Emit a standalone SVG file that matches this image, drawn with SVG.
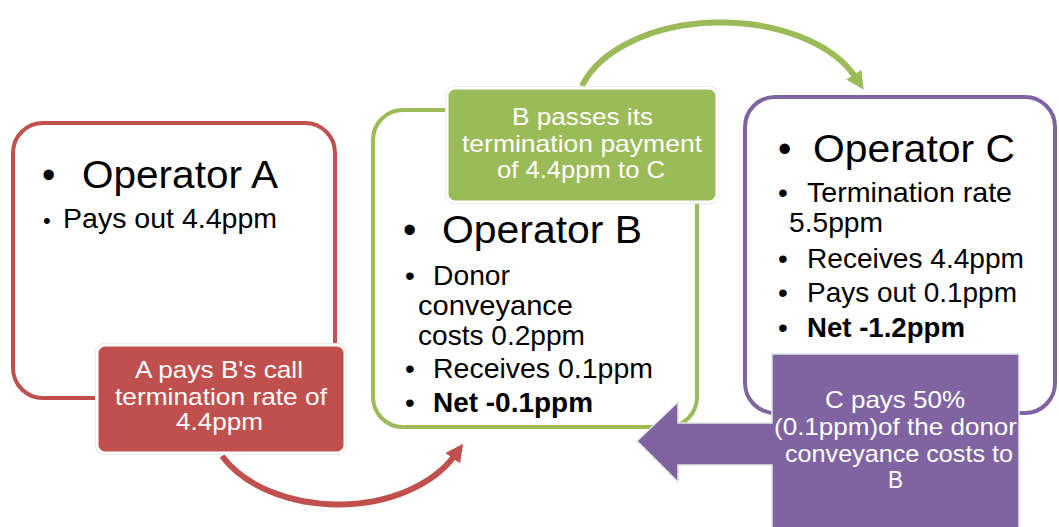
<svg xmlns="http://www.w3.org/2000/svg" width="1059" height="527" viewBox="0 0 1059 527">
  <style>
    .frame { fill: #ffffff; stroke-width: 4; }
    .red { stroke: #C0504D; }
    .green { stroke: #9BBB59; }
    .purple { stroke: #8064A2; }
    .head { font-family: "Liberation Sans", Arial, sans-serif; font-size: 38px; fill: #000; }
    .body { font-family: "Liberation Sans", Arial, sans-serif; font-size: 28px; fill: #000; }
    .bold { font-weight: bold; }
    .lbl { font-family: "Liberation Sans", Arial, sans-serif; font-size: 24px; fill: #ffffff; }
    .tag { stroke: #ffffff; stroke-width: 3; }
    .edge { fill: none; stroke-width: 6; }
  </style>
  <defs>
    <marker id="headGreen" markerUnits="userSpaceOnUse" markerWidth="20" markerHeight="20" refX="4" refY="10" orient="auto" viewBox="0 0 20 20">
      <path d="M0,1 L18,10 L0,19 Z" fill="#9BBB59"/>
    </marker>
    <marker id="headRed" markerUnits="userSpaceOnUse" markerWidth="20" markerHeight="20" refX="4" refY="10" orient="auto" viewBox="0 0 20 20">
      <path d="M0,1 L18,10 L0,19 Z" fill="#C0504D"/>
    </marker>
  </defs>

  <!-- Operator C -->
  <g id="operator-c">
    <rect class="frame purple" x="745" y="97" width="310" height="316" rx="30"/>
    <text class="head" x="778" y="162">•</text>
    <text class="head" x="813" y="162" textLength="202" lengthAdjust="spacingAndGlyphs">Operator  C</text>
    <text class="body" x="778" y="202">•</text>
    <text class="body" x="807" y="202" textLength="205" lengthAdjust="spacingAndGlyphs">Termination rate</text>
    <text class="body" x="789" y="232" textLength="94" lengthAdjust="spacingAndGlyphs">5.5ppm</text>
    <text class="body" x="778" y="268">•</text>
    <text class="body" x="807" y="268" textLength="217" lengthAdjust="spacingAndGlyphs">Receives 4.4ppm</text>
    <text class="body" x="778" y="302">•</text>
    <text class="body" x="807" y="302" textLength="210" lengthAdjust="spacingAndGlyphs">Pays out 0.1ppm</text>
    <text class="body" x="778" y="337">•</text>
    <text class="body bold" x="807" y="337" textLength="158" lengthAdjust="spacingAndGlyphs">Net -1.2ppm</text>
  </g>

  <!-- Operator A -->
  <g id="operator-a">
    <rect class="frame red" x="13" y="123" width="322" height="275" rx="30"/>
    <text class="head" x="42" y="188">•</text>
    <text class="head" x="82" y="188" textLength="196" lengthAdjust="spacingAndGlyphs">Operator  A</text>
    <text class="body" x="43" y="228" style="font-size:22px">•</text>
    <text class="body" x="63" y="228" textLength="214" lengthAdjust="spacingAndGlyphs">Pays out 4.4ppm</text>
  </g>

  <!-- Operator B -->
  <g id="operator-b">
    <rect class="frame green" x="373" y="110" width="324" height="317" rx="30"/>
    <text class="head" x="403" y="243">•</text>
    <text class="head" x="442" y="243" textLength="200" lengthAdjust="spacingAndGlyphs">Operator  B</text>
    <text class="body" x="405" y="285">•</text>
    <text class="body" x="433" y="285" textLength="77" lengthAdjust="spacingAndGlyphs">Donor</text>
    <text class="body" x="418" y="315" textLength="155" lengthAdjust="spacingAndGlyphs">conveyance</text>
    <text class="body" x="418" y="345" textLength="167" lengthAdjust="spacingAndGlyphs">costs 0.2ppm</text>
    <text class="body" x="405" y="378">•</text>
    <text class="body" x="433" y="378" textLength="220" lengthAdjust="spacingAndGlyphs">Receives 0.1ppm</text>
    <text class="body" x="405" y="412">•</text>
    <text class="body bold" x="433" y="412" textLength="160" lengthAdjust="spacingAndGlyphs">Net -0.1ppm</text>
  </g>

  <!-- Connectors: curved payment arrows -->
  <g id="connectors">
    <path class="edge" stroke="#9BBB59" d="M582,86 A145 88 0 0 1 856,78" marker-end="url(#headGreen)"/>
    <path class="edge" stroke="#C0504D" d="M222,456 A130 88 0 0 0 455,455" marker-end="url(#headRed)"/>
  </g>

  <!-- Label: A pays B -->
  <g id="label-a-to-b">
    <rect x="95.5" y="343.5" width="251" height="111" rx="9" fill="none" stroke="#d8d8d8" stroke-width="1"/>
    <rect class="tag" x="97" y="345" width="248" height="108" rx="8" fill="#C0504D"/>
    <text class="lbl" x="135" y="378" textLength="168" lengthAdjust="spacingAndGlyphs">A pays B's call</text>
    <text class="lbl" x="115" y="405" textLength="212" lengthAdjust="spacingAndGlyphs">termination rate of</text>
    <text class="lbl" x="176" y="430" textLength="87" lengthAdjust="spacingAndGlyphs">4.4ppm</text>
  </g>

  <!-- Label: B passes to C -->
  <g id="label-b-to-c">
    <rect x="445.5" y="86.5" width="273" height="117" rx="9" fill="none" stroke="#d8d8d8" stroke-width="1"/>
    <rect class="tag" x="447" y="88" width="270" height="114" rx="8" fill="#9BBB59"/>
    <text class="lbl" x="512" y="125" textLength="141" lengthAdjust="spacingAndGlyphs">B passes its</text>
    <text class="lbl" x="462" y="152" textLength="240" lengthAdjust="spacingAndGlyphs">termination payment</text>
    <text class="lbl" x="497" y="178" textLength="168" lengthAdjust="spacingAndGlyphs">of 4.4ppm to C</text>
  </g>

  <!-- Label: C pays B, block with left-pointing arrow -->
  <g id="label-c-to-b">
    <path d="M772,354 H1019 V530 H772 V465 H678 V482 L637,441 L678,402 V423 H772 Z" fill="#8064A2" stroke="#e4e4e4" stroke-width="1.5"/>
    <text class="lbl" x="825" y="408" textLength="140" lengthAdjust="spacingAndGlyphs">C pays 50%</text>
    <text class="lbl" x="774" y="435" textLength="243" lengthAdjust="spacingAndGlyphs">(0.1ppm)of the donor</text>
    <text class="lbl" x="785" y="462" textLength="228" lengthAdjust="spacingAndGlyphs">conveyance costs to</text>
    <text class="lbl" x="888" y="488" textLength="15" lengthAdjust="spacingAndGlyphs">B</text>
  </g>
</svg>
